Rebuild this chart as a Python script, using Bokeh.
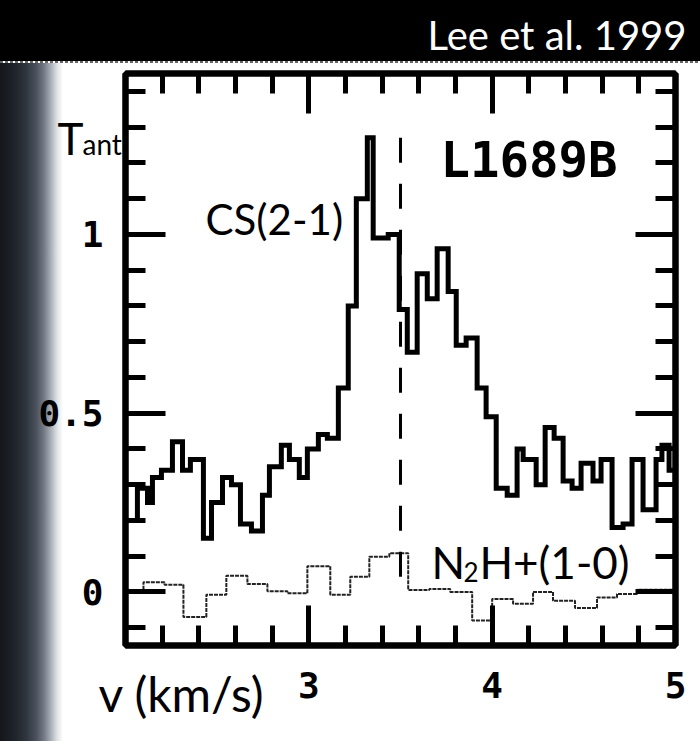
from bokeh.plotting import figure
from bokeh.models import Range1d, FixedTicker, LinearAxis
from bokeh.embed import file_html
from bokeh.resources import INLINE
from bokeh.core.properties import value

# ---- data ----
# CS(2-1) spectrum: channel left edges (km/s) and antenna temperature
cs_v = [2.000, 2.065, 2.120, 2.147, 2.196, 2.256, 2.311, 2.354, 2.425, 2.469,
        2.529, 2.578, 2.627, 2.687, 2.747, 2.785, 2.850, 2.894, 2.948, 2.992,
        3.052, 3.101, 3.161, 3.215, 3.259, 3.319, 3.351, 3.433, 3.493, 3.537,
        3.591, 3.646, 3.700, 3.760, 3.804, 3.858, 3.918, 3.967, 4.022, 4.082,
        4.136, 4.169, 4.240, 4.289, 4.338, 4.387, 4.436, 4.485, 4.550, 4.594,
        4.654, 4.714, 4.763, 4.823, 4.894, 4.926, 4.965]
cs_T = [0.20, 0.29, 0.25, 0.32, 0.34, 0.42, 0.34, 0.37, 0.15, 0.25,
        0.32, 0.30, 0.19, 0.17, 0.27, 0.35, 0.41, 0.37, 0.32, 0.40,
        0.44, 0.43, 0.57, 0.80, 1.10, 1.27, 0.99, 1.00, 0.79, 0.67,
        0.89, 0.82, 0.96, 0.84, 0.69, 0.71, 0.57, 0.49, 0.29, 0.27,
        0.40, 0.37, 0.30, 0.46, 0.43, 0.31, 0.29, 0.36, 0.31, 0.37,
        0.18, 0.19, 0.37, 0.23, 0.37, 0.41, 0.34]
# N2H+(1-0) spectrum
n2h_v = [2.000, 2.098, 2.213, 2.316, 2.441, 2.550, 2.665, 2.774, 2.883, 2.992,
         3.117, 3.226, 3.330, 3.439, 3.542, 3.657, 3.771, 3.891, 4.000, 4.114,
         4.223, 4.332, 4.452, 4.572, 4.681, 4.790]
n2h_T = [0.000, 0.027, 0.020, -0.070, -0.008, 0.045, 0.022, 0.002, -0.004, 0.072,
         -0.008, 0.042, 0.098, 0.108, 0.005, 0.008, 0.000, -0.080, -0.020, -0.033,
         0.000, -0.025, -0.045, -0.016, -0.006, 0.006]
v_end = 5.0
v_sys = 3.5
v_sys_T = [1.27, 0.0]

x_major = [3, 4, 5]
x_minor = [2.2, 2.4, 2.6, 2.8, 3.2, 3.4, 3.6, 3.8, 4.2, 4.4, 4.6, 4.8]
y_major = [0, 0.5, 1]
y_minor = [-0.1, 0.1, 0.2, 0.3, 0.4, 0.6, 0.7, 0.8, 0.9, 1.1, 1.2, 1.3, 1.4]
y_labels = {0: "0", 0.5: "0.5", 1: "1"}

# ---- layout ----
W, H = 700, 741
FL, FR, FT, FB = 125, 675, 73, 645
X0, X1 = 2.0, 5.0
Y0, Y1 = -0.15, 1.45


def vx(px):
    return X0 + (px - FL) * (X1 - X0) / (FR - FL)


def ty(py):
    return Y1 - (py - FT) * (Y1 - Y0) / (FB - FT)


p = figure(width=W, height=H, x_range=Range1d(X0, X1), y_range=Range1d(Y0, Y1),
           output_backend="svg", toolbar_location=None,
           min_border_left=FL, min_border_right=W - FR,
           min_border_top=FT, min_border_bottom=H - FB,
           background_fill_color="white", border_fill_color=None,
           outline_line_color="black", outline_line_width=6)
p.grid.visible = False

# slide background (black header, dotted edge, dark left vignette)
p.styles = {
    "background":
        "linear-gradient(#000, #000) 0 0 / 100% 61px no-repeat, "
        "repeating-linear-gradient(to right, #666 0 3px, transparent 3px 5px) 0 61px / 100% 2px no-repeat, "
        "linear-gradient(to right, #14161a 0px, #1f232a 14px, #2f353e 26px, #4a515c 36px, "
        "#737a86 44px, #abb0b8 51px, #dfe1e4 57px, #ffffff 63px) 0 63px / 100% 100% no-repeat"
}

bottom_ax = p.xaxis[0]
left_ax = p.yaxis[0]
bottom_ax.ticker = FixedTicker(ticks=x_major, minor_ticks=x_minor)
left_ax.ticker = FixedTicker(ticks=y_major, minor_ticks=y_minor)
left_ax.major_label_overrides = y_labels
top_ax = LinearAxis(ticker=FixedTicker(ticks=x_major, minor_ticks=x_minor))
right_ax = LinearAxis(ticker=FixedTicker(ticks=y_major, minor_ticks=y_minor))
p.add_layout(top_ax, "above")
p.add_layout(right_ax, "right")

TICK_FONT = "DejaVu Sans Mono"
for ax in [bottom_ax, left_ax, top_ax, right_ax]:
    ax.axis_line_color = "black"
    ax.axis_line_width = 6
    ax.major_tick_in = 40
    ax.major_tick_out = 0
    ax.minor_tick_in = 20
    ax.minor_tick_out = 0
    ax.major_tick_line_width = 5
    ax.minor_tick_line_width = 5
    ax.major_tick_line_color = "black"
    ax.minor_tick_line_color = "black"
    ax.major_label_text_font = TICK_FONT
    ax.major_label_text_font_style = "bold"
    ax.major_label_text_font_size = "36px"
    ax.major_label_text_color = "black"
for ax in [top_ax, right_ax]:
    ax.major_label_text_alpha = 0
    ax.major_label_text_font_size = "1px"
    ax.major_label_standoff = 0
bottom_ax.major_label_standoff = 26
left_ax.major_label_standoff = 22

# ---- spectra ----
p.step(cs_v + [v_end], cs_T + [cs_T[-1]], mode="after", line_width=5,
       line_color="black", line_join="miter")
p.step(n2h_v + [v_end], n2h_T + [n2h_T[-1]], mode="after", line_width=2,
       line_color="#222222", line_dash="4 1")
p.line([v_sys, v_sys], v_sys_T, line_width=3, line_color="black", line_dash="25 21")

# ---- texts (y given at the middle of the capitals) ----
SANS = "Lato"


def add_text(txt, px, py, size, font=SANS, color="black", align="left", style="normal"):
    p.text(x=[vx(px)], y=[ty(py)], text=[txt], text_font=value(font),
           text_font_size=f"{size}px", text_color=color, text_align=align,
           text_baseline="alphabetic", text_font_style=style, level="overlay")


add_text("Lee et al. 1999", 686, 34, 40, color="white", align="right")
add_text("T", 57, 137, 44)
add_text("ant", 82, 143, 28)
add_text("CS(2-1)", 205, 218, 42)
add_text("L1689B", 440, 160, 49, font="DejaVu Sans Mono", style="bold")
add_text("N", 431, 561, 44)
add_text("2", 463, 571, 26)
add_text("H+(1-0)", 479, 561, 44)
add_text("v (km/s)", 98, 693, 48)

open("out.html", "w").write(file_html(p, INLINE))
